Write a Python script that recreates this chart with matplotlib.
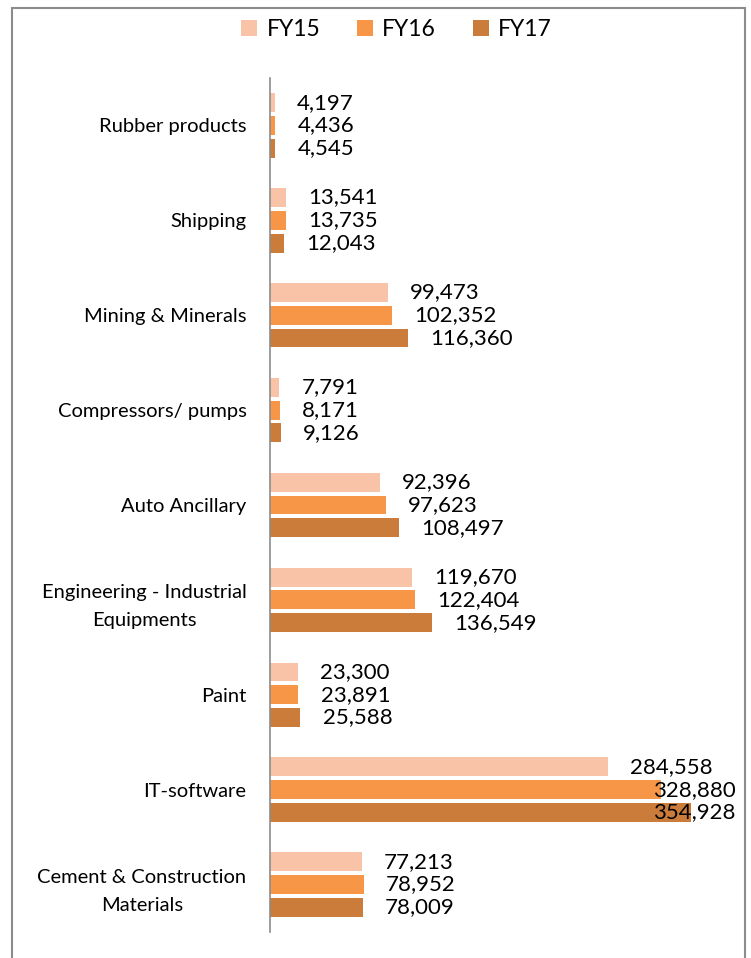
import numpy as np
import matplotlib.pyplot as plt
from matplotlib.patches import Rectangle

plt.rcParams['font.family'] = ['Lato', 'DejaVu Sans']

categories = ["Rubber products", "Shipping", "Mining & Minerals", "Compressors/ pumps",
              "Auto Ancillary", "Engineering - Industrial\nEquipments", "Paint",
              "IT-software", "Cement & Construction\nMaterials"]
fy15 = [4197, 13541, 99473, 7791, 92396, 119670, 23300, 284558, 77213]
fy16 = [4436, 13735, 102352, 8171, 97623, 122404, 23891, 328880, 78952]
fy17 = [4545, 12043, 116360, 9126, 108497, 136549, 25588, 354928, 78009]
series_names = ["FY15", "FY16", "FY17"]
colors = ["#F9C3A8", "#F79646", "#CB7B3A"]

fig = plt.figure(figsize=(7.51, 9.58), dpi=100)
# chart border
fig.patches.append(Rectangle((11.5/751, -0.05), (745 - 11.5)/751, 1.05 - 8.5/958,
                             transform=fig.transFigure, fill=False,
                             edgecolor="#8c8c8c", linewidth=1.5))

ax = fig.add_axes([270/751, 1 - 932/958, 475/751, (932 - 78)/958])
x_max = 400000
ax.set_xlim(0, x_max)
ax.set_ylim(len(categories) - 0.5, -0.5)

pos = np.arange(len(categories))
bar_h = 0.2
step = 0.24
for i, (name, vals, col) in enumerate(zip(series_names, [fy15, fy16, fy17], colors)):
    y = pos + (i - 1) * step
    ax.barh(y, vals, height=bar_h, color=col, label=name)
    for yy, v in zip(y, vals):
        txt = f"{v:,}"
        # labels near the right edge get pushed back inside the plot area
        if v > 300000:
            ax.text(x_max * 0.98, yy, txt, ha="right", va="center", fontsize=16, color="black")
        else:
            ax.annotate(txt, (v, yy), xytext=(16, 0), textcoords="offset points",
                        ha="left", va="center", fontsize=16, color="black")

ax.set_yticks(pos)
ax.set_yticklabels(categories, fontsize=14.5, linespacing=1.75, ha="right",
                   multialignment="center")
ax.tick_params(axis="y", length=0, pad=17)
ax.set_xticks([])
for s in ["top", "right", "bottom"]:
    ax.spines[s].set_visible(False)
ax.spines["left"].set_color("#8c8c8c")
ax.spines["left"].set_linewidth(1.2)

fig.legend(loc="upper center", bbox_to_anchor=(0.528, 1.002), ncol=3, frameon=False,
           fontsize=16.5, handlelength=0.7, handleheight=0.7, columnspacing=1.6,
           handletextpad=0.4)

fig.savefig("out.png", dpi=100)
